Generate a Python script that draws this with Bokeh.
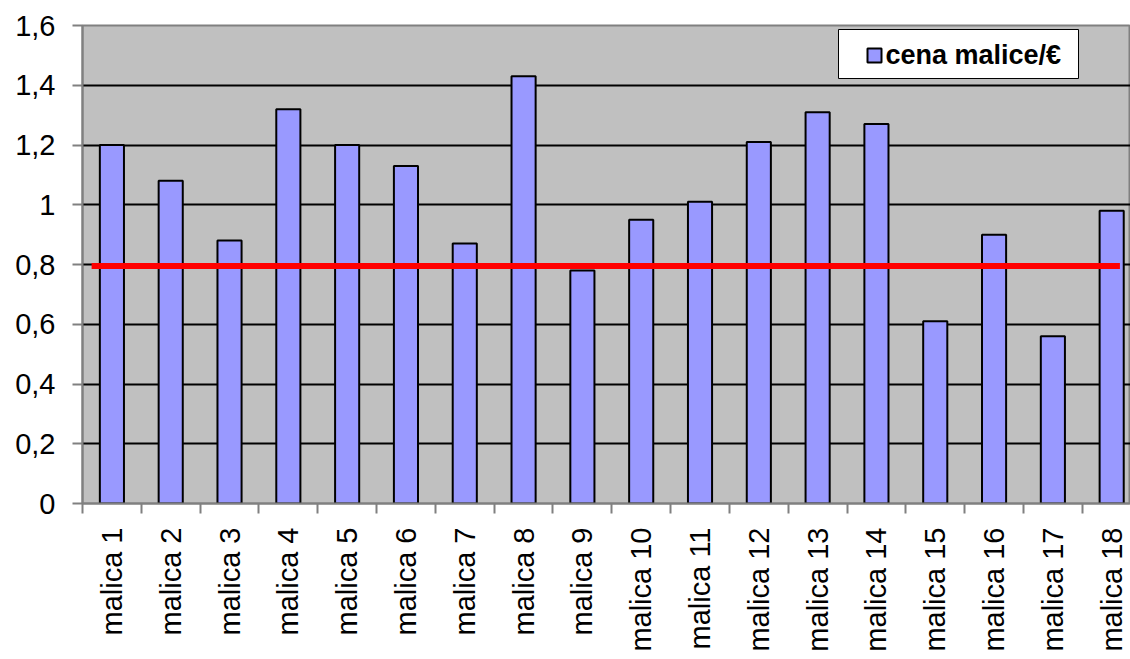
from bokeh.plotting import figure
from bokeh.models import ColumnDataSource, Range1d, FixedTicker, BoxAnnotation, Label
from bokeh.embed import file_html
from bokeh.resources import INLINE
import math

# price of each snack (EUR)
categories = ["malica %d" % i for i in range(1, 19)]
prices = [1.20, 1.08, 0.88, 1.32, 1.20, 1.13, 0.87, 1.43, 0.78,
          0.95, 1.01, 1.21, 1.31, 1.27, 0.61, 0.90, 0.56, 0.98]
reference_price = 0.795
y_ticks = [0, 0.2, 0.4, 0.6, 0.8, 1.0, 1.2, 1.4, 1.6]
y_tick_labels = ["0", "0,2", "0,4", "0,6", "0,8", "1", "1,2", "1,4", "1,6"]
series_name = "cena malice/€"

FONT = "Liberation Sans"
BAR_FILL = "#9999FF"

centers = [i + 0.5 for i in range(len(categories))]
source = ColumnDataSource(dict(x=centers, top=prices, name=categories))

p = figure(width=1130, height=659, output_backend="svg", toolbar_location=None,
           x_range=Range1d(0, 17.82), y_range=Range1d(0, 1.6),
           min_border_left=82, min_border_right=0, min_border_top=25,
           min_border_bottom=156)

p.border_fill_color = "white"
p.background_fill_color = "#C0C0C0"
p.outline_line_color = "#808080"
p.outline_line_width = 2

p.vbar(x="x", top="top", width=0.41, bottom=0, source=source,
       fill_color=BAR_FILL, line_color="black", line_width=2)

# horizontal reference line
p.line(x=[0.155, 17.64], y=[reference_price, reference_price],
       line_color="#FF0000", line_width=6)

# y axis
p.yaxis.ticker = FixedTicker(ticks=y_ticks)
p.yaxis.major_label_overrides = {t: l for t, l in zip(y_ticks, y_tick_labels)}
p.yaxis.major_label_text_font = FONT
p.yaxis.major_label_text_font_size = "29px"
p.yaxis.major_label_text_color = "black"
p.yaxis.major_label_standoff = 17
p.yaxis.axis_line_color = "#808080"
p.yaxis.axis_line_width = 2
p.yaxis.major_tick_out = 10
p.yaxis.major_tick_in = 0
p.yaxis.major_tick_line_color = "#808080"
p.yaxis.major_tick_line_width = 2
p.yaxis.minor_tick_line_color = None

# x axis: labels at category centres, ticks at category boundaries
p.xaxis.ticker = FixedTicker(ticks=centers,
                             minor_ticks=list(range(len(categories) + 1)))
p.xaxis.major_label_overrides = {c: n for c, n in zip(centers, categories)}
p.xaxis.major_label_orientation = math.pi / 2
p.xaxis.major_label_text_font = FONT
p.xaxis.major_label_text_font_size = "29px"
p.xaxis.major_label_text_color = "black"
p.xaxis.major_label_standoff = 14
p.xaxis.major_tick_line_color = None
p.xaxis.minor_tick_out = 10
p.xaxis.minor_tick_in = 0
p.xaxis.minor_tick_line_color = "#808080"
p.xaxis.minor_tick_line_width = 2
p.xaxis.axis_line_color = "#808080"
p.xaxis.axis_line_width = 2

p.xgrid.grid_line_color = None
p.ygrid.grid_line_color = "black"
p.ygrid.grid_line_width = 2

# legend box (screen units, measured from the bottom-left of the plot frame)
p.add_layout(BoxAnnotation(left=756, right=996, bottom=425, top=474,
                           left_units="screen", right_units="screen",
                           bottom_units="screen", top_units="screen",
                           fill_color="white", fill_alpha=1,
                           line_color="black", line_width=1, line_alpha=1))
p.add_layout(BoxAnnotation(left=785, right=799, bottom=441, top=455,
                           left_units="screen", right_units="screen",
                           bottom_units="screen", top_units="screen",
                           fill_color=BAR_FILL, fill_alpha=1,
                           line_color="black", line_width=2, line_alpha=1))
p.add_layout(Label(x=803, y=449, x_units="screen", y_units="screen",
                   text=series_name, text_font=FONT, text_font_size="27px",
                   text_font_style="bold", text_color="black",
                   text_baseline="middle", text_align="left"))

open("out.html", "w").write(file_html(p, INLINE))
